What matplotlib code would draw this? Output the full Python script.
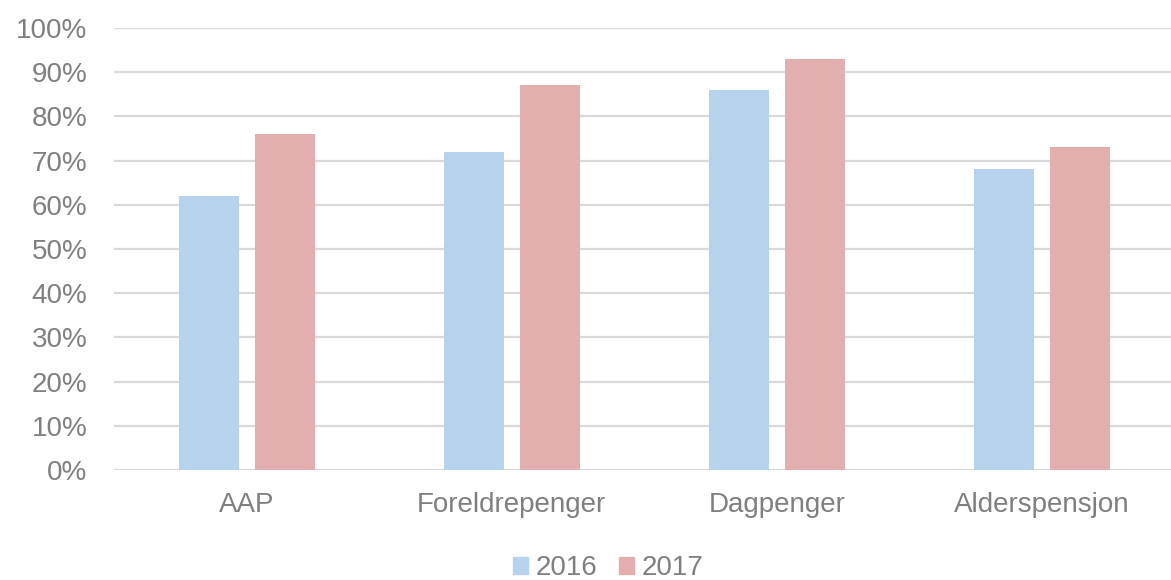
import matplotlib.pyplot as plt
import numpy as np
from matplotlib.patches import Patch

plt.rcParams['font.family'] = ['Liberation Sans', 'DejaVu Sans']

categories = ['AAP', 'Foreldrepenger', 'Dagpenger', 'Alderspensjon']
years = ['2016', '2017']
values_2016 = [62, 72, 86, 68]
values_2017 = [76, 87, 93, 73]
yticks = [0, 10, 20, 30, 40, 50, 60, 70, 80, 90, 100]

c2016 = '#B7D2EC'
c2017 = '#E2AFAE'
text_col = '#7F7F7F'

fig = plt.figure(figsize=(11.71, 5.8), dpi=100)
ax = fig.add_axes([114 / 1171, 110 / 580, 1 - 114 / 1171, 442 / 580])

x = np.arange(len(categories))
w = 60 / 265
off = 38 / 265
ax.bar(x - off, values_2016, width=w, color=c2016, zorder=3)
ax.bar(x + off, values_2017, width=w, color=c2017, zorder=3)

ax.set_xlim(-0.5, 3.5 - 3.5 / 265)
ax.set_ylim(0, 100)
ax.set_yticks(yticks)
ax.set_yticklabels([f'{t}%' for t in yticks])
ax.set_xticks(x)
ax.set_xticklabels(categories)
ax.tick_params(axis='both', length=0, labelsize=20, labelcolor=text_col)
ax.tick_params(axis='y', pad=19)
ax.tick_params(axis='x', pad=16)
ax.grid(axis='y', color='#D9D9D9', linewidth=1.6, zorder=0)
for s in ax.spines.values():
    s.set_visible(False)
ax.set_clip_on(False)

handles = [Patch(color=c2016, label=years[0]), Patch(color=c2017, label=years[1])]
fig.legend(handles=handles, loc='center', bbox_to_anchor=(608 / 1171, 1 - 568 / 580),
           ncol=2, frameon=False, fontsize=20, labelcolor=text_col,
           handlelength=0.55, handleheight=0.55, handletextpad=0.25, columnspacing=0.8,
           borderaxespad=0, borderpad=0)

fig.savefig('out.png', dpi=100)
